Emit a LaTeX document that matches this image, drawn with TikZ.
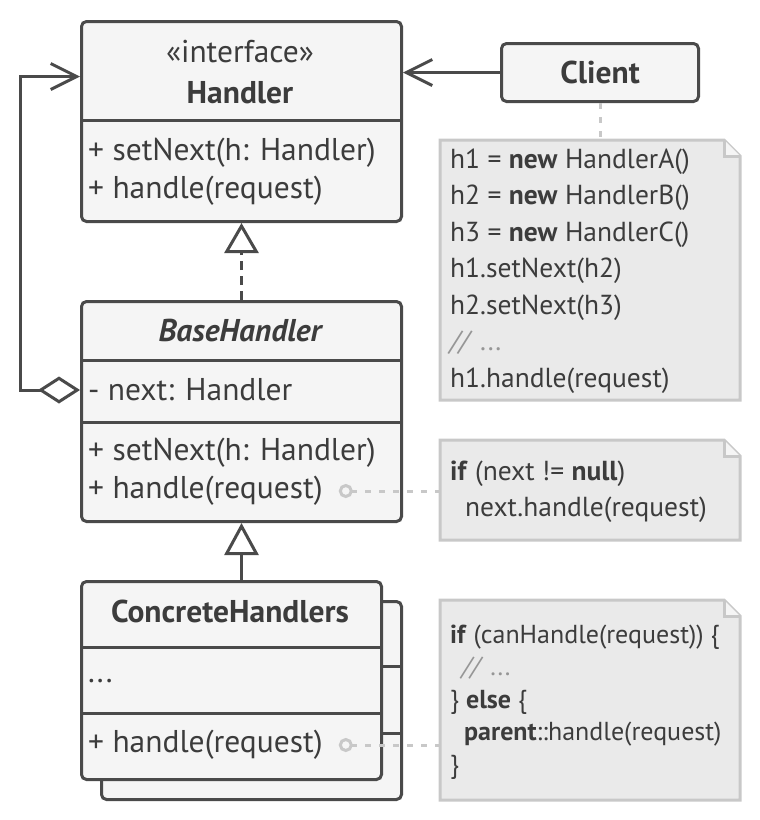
\documentclass[tikz,border=0pt]{standalone}
\usepackage{fontspec}
\setmainfont{PT Sans}
\usepackage{xcolor}
\usetikzlibrary{arrows.meta,calc,positioning}
\definecolor{boxline}{RGB}{74,74,74}
\definecolor{boxfill}{RGB}{245,245,245}
\definecolor{boxtext}{RGB}{60,60,60}
\definecolor{noteline}{RGB}{200,200,200}
\definecolor{notefill}{RGB}{234,234,234}
\definecolor{comment}{RGB}{150,150,150}

\begin{document}
\begin{tikzpicture}[x=1pt,y=1pt,
    cls/.style={draw=boxline,fill=boxfill,line width=3pt,rounded corners=5pt,inner sep=0pt,anchor=north west,text=boxtext},
    divider/.style={draw=boxline,line width=3pt},
    txt/.style={text=boxtext,inner sep=0pt,font=\fontsize{31.5}{36}\selectfont},
    notearea/.style={inner sep=0pt,outer sep=0pt,anchor=north west},
    notebody/.style={draw=noteline,fill=notefill,line width=3pt,line join=miter},
    notetxt/.style={text=boxtext,inner sep=0pt,anchor=west,align=left},
    link/.style={draw=noteline,line width=3pt,dash pattern=on 6pt off 8pt,{Circle[open,length=14pt,fill=boxfill,sep=0pt]}-,shorten <=16pt},
    assoc/.style={draw=boxline,line width=3pt,-{Straight Barb[length=26pt,width=26pt]}},
    realize/.style={draw=boxline,line width=3pt,dash pattern=on 9pt off 6pt,-{Triangle[open,length=30pt,width=34pt,fill=white]}},
    inherit/.style={draw=boxline,line width=3pt,{Triangle[open,length=32pt,width=34pt,fill=white]}-},
    agg/.style={draw=boxline,line width=3pt,{Diamond[open,length=42pt,width=27pt,fill=white]}-{Straight Barb[length=26pt,width=26pt]}}]
\useasboundingbox (0,0) rectangle (760,-820);

% interface
\node[cls,minimum width=320pt,minimum height=200pt] (handler) at (80,-20) {};
\draw[divider] (80,-120) -- (400,-120);
\node[txt] (hstereo) at (240,-52) {«interface»};
\node[txt,font=\fontsize{31.5}{36}\selectfont\bfseries] (hname) at (240,-93) {Handler};
\node[txt,anchor=west] (hset) at (88,-153) {+ setNext(h: Handler)};
\node[txt,anchor=west] (hhandle) at (88,-191) {+ handle(request)};

% client
\node[cls,minimum width=197pt,minimum height=58pt,font=\fontsize{31.5}{36}\selectfont\bfseries] (client) at (500,-42) {Client};

% base class
\node[cls,minimum width=320pt,minimum height=220pt] (base) at (80,-300) {};
\draw[divider] (80,-360) -- (400,-360);
\draw[divider] (80,-422) -- (400,-422);
\node[txt,font=\fontsize{31.5}{36}\selectfont\bfseries\itshape] (bname) at (240,-331) {BaseHandler};
\node[txt,anchor=west] (bnext) at (88,-390) {- next: Handler};
\node[txt,anchor=west] (bset) at (88,-453) {+ setNext(h: Handler)};
\node[txt,anchor=west] (bhandle) at (88,-491) {+ handle(request)};

% concrete classes
\node[cls,minimum width=300pt,minimum height=198pt] (concback) at (100,-600) {};
\draw[divider] (100,-666) -- (400,-666);
\draw[divider] (100,-733) -- (400,-733);
\node[cls,minimum width=300pt,minimum height=198pt] (conc) at (80,-580) {};
\draw[divider] (80,-647) -- (380,-647);
\draw[divider] (80,-713) -- (380,-713);
\node[txt,font=\fontsize{31.5}{36}\selectfont\bfseries] (cname) at (230,-611) {ConcreteHandlers};
\node[txt,anchor=west] (cdots) at (88,-681) {...};
\node[txt,anchor=west] (chandle) at (88,-745) {+ handle(request)};

% notes
\node[notearea,minimum width=300pt,minimum height=260pt] (note1) at (440,-140) {};
\node[notearea,minimum width=300pt,minimum height=100pt] (note2) at (440,-440) {};
\node[notearea,minimum width=300pt,minimum height=200pt] (note3) at (440,-600) {};
\foreach \n in {note1,note2,note3} {
  \draw[notebody] (\n.south west) |- ($(\n.north east)+(-16,0)$) -- ($(\n.north east)+(0,-16)$) -- (\n.south east) -- cycle;
  \draw[notebody,fill=boxfill] ($(\n.north east)+(-16,0)$) |- ($(\n.north east)+(0,-16)$);
}
\node[notetxt,font=\fontsize{27.5}{36.5}\selectfont] (code1) at (450,-271)
  {h1 = \textbf{new} HandlerA()\\h2 = \textbf{new} HandlerB()\\h3 = \textbf{new} HandlerC()\\h1.setNext(h2)\\h2.setNext(h3)\\\textcolor{comment}{\textit{//} ...}\\h1.handle(request)};
\node[notetxt,font=\fontsize{27.5}{36}\selectfont] (code2) at (450,-492)
  {\textbf{if} (next != \textbf{null})\\\hspace*{15pt}next.handle(request)};
\node[notetxt,font=\fontsize{26}{32.5}\selectfont] (code3) at (450,-702)
  {\textbf{if} (canHandle(request)) \{\\\hspace*{12pt}\textcolor{comment}{\textit{//} ...}\\\} \textbf{else} \{\\\hspace*{14pt}\textbf{parent}::handle(request)\\\}};

% connectors
\draw[assoc] (client.west) -- (client.west -| handler.east);
\draw[realize] (base.north) -- (handler.south);
\draw[inherit] (base.south) -- (base.south |- conc.north);
\draw[agg] (base.west |- bnext.west) -- ++(-60,0) |- ($(handler.west)+(0,45)$);
\draw[link,{}-{},shorten <=0pt] (client.south) -- (client.south |- note1.north);
\draw[link] (bhandle.east) -- (bhandle.east -| note2.west);
\draw[link] (chandle.east) -- (chandle.east -| note3.west);
\end{tikzpicture}
\end{document}
